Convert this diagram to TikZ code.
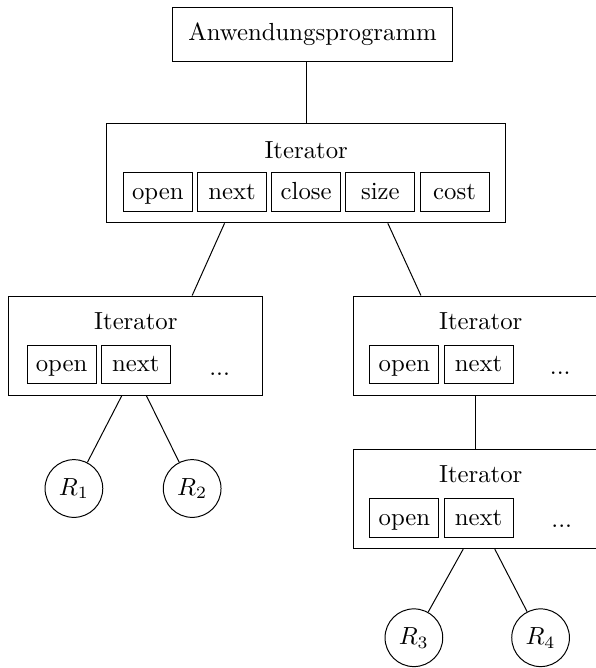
\documentclass[tikz,border=0pt]{standalone}
\usetikzlibrary{positioning}
\tikzset{
  progbox/.style={draw,minimum width=3.99cm,minimum height=.78cm},
  iterbox/.style={draw,minimum width=3.61cm,minimum height=1.41cm},
  methbox/.style={draw,minimum width=.98cm,minimum height=.55cm,text height=1.6ex,text depth=.25ex,inner sep=0pt},
  relnode/.style={draw,circle,minimum size=.82cm,inner sep=0pt},
  link/.style={draw,line width=.4pt}
}

\begin{document}
\begin{tikzpicture}[node distance=.06cm]
  \useasboundingbox (0,0) rectangle (8.46,-9.49);
  \node[progbox] (app) at (4.44,-.49) {Anwendungsprogramm};
  % top iterator with all five methods
  \node[iterbox,minimum width=5.67cm] (itroot) at (4.35,-2.46) {};
  \node (itroot-t) at ([yshift=.33cm]itroot.center) {Iterator};
  \node[methbox] (itroot-close) at ([yshift=-.27cm]itroot.center) {close};
  \node[methbox,left=of itroot-close] (itroot-next) {next};
  \node[methbox,left=of itroot-next] (itroot-open) {open};
  \node[methbox,right=of itroot-close] (itroot-size) {size};
  \node[methbox,right=of itroot-size] (itroot-cost) {cost};
  % left child
  \node[iterbox] (itleft) at (1.93,-4.91) {};
  \node (itleft-t) at ([yshift=.35cm]itleft.center) {Iterator};
  \node[methbox] (itleft-next) at ([yshift=-.27cm]itleft.center) {next};
  \node[methbox,left=of itleft-next] (itleft-open) {open};
  \node (itleft-dots) at ([xshift=1.19cm,yshift=-.41cm]itleft.center) {...};
  % right child
  \node[iterbox] (itright) at (6.83,-4.91) {};
  \node (itright-t) at ([yshift=.35cm]itright.center) {Iterator};
  \node[methbox] (itright-next) at ([xshift=-.03cm,yshift=-.27cm]itright.center) {next};
  \node[methbox,left=of itright-next] (itright-open) {open};
  \node (itright-dots) at ([xshift=1.13cm,yshift=-.39cm]itright.center) {...};
  % below the right child
  \node[iterbox] (itlow) at (6.83,-7.09) {};
  \node (itlow-t) at ([yshift=.35cm]itlow.center) {Iterator};
  \node[methbox] (itlow-next) at ([xshift=-.03cm,yshift=-.27cm]itlow.center) {next};
  \node[methbox,left=of itlow-next] (itlow-open) {open};
  \node (itlow-dots) at ([xshift=1.15cm,yshift=-.39cm]itlow.center) {...};
  % relations
  \node[relnode] (r1) at (1.05,-6.94) {$R_1$};
  \node[relnode] (r2) at (2.73,-6.94) {$R_2$};
  \node[relnode] (r3) at (5.88,-9.06) {$R_3$};
  \node[relnode] (r4) at (7.68,-9.06) {$R_4$};
  \draw[link] (itroot.north)--(itroot.north |- app.south);
  \draw[link] ([xshift=-1.16cm]itroot.south)--([xshift=.8cm]itleft.north);
  \draw[link] ([xshift=1.16cm]itroot.south)--([xshift=-.85cm]itright.north);
  \draw[link] ([xshift=-.07cm]itright.south)--([xshift=-.07cm]itlow.north);
  \draw[link] ([xshift=-.2cm]itleft.south)--(r1);\draw[link] ([xshift=.15cm]itleft.south)--(r2);
  \draw[link] ([xshift=-.25cm]itlow.south)--(r3);\draw[link] ([xshift=.2cm]itlow.south)--(r4);
\end{tikzpicture}
\end{document}
